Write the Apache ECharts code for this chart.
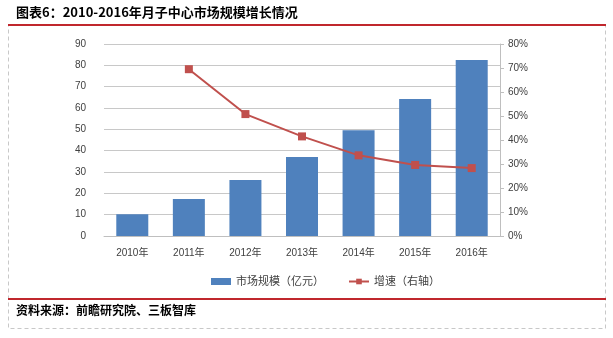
<!DOCTYPE html>
<html>
<head>
<meta charset="utf-8">
<script src="https://cdn.jsdelivr.net/npm/echarts@6/dist/echarts.min.js"></script>
<style>
  html, body { margin: 0; padding: 0; background: #fff; }
  #chart { width: 613px; height: 338px; }
</style>
</head>
<body>
<div id="chart"></div>
<script>
// Market size of confinement centers, 2010-2016
const years = ['2010年', '2011年', '2012年', '2013年', '2014年', '2015年', '2016年'];
const marketSize = [10.2, 17.3, 26.2, 37.0, 49.6, 64.2, 82.5];      // 亿元
const growthRate = [null, 69.5, 50.8, 41.5, 33.6, 29.6, 28.3];      // %
const leftTicks = [0, 90, 10];
const rightTicks = [0, 80, 10];

const titleText = '图表6：2010-2016年月子中心市场规模增长情况';
const sourceText = '资料来源：前瞻研究院、三板智库';
const barName = '市场规模（亿元）';
const lineName = '增速（右轴）';

const cjk = '"Liberation Sans", "Noto Sans CJK SC", sans-serif';
const chart = echarts.init(document.getElementById('chart'));

chart.setOption({
  animation: false,
  backgroundColor: '#fff',
  grid: { left: 104, right: 113, top: 44, bottom: 102 },
  legend: {
    bottom: 46,
    left: 206,
    itemGap: 24,
    itemWidth: 20,
    itemHeight: 7,
    textStyle: { fontFamily: cjk, fontSize: 11, color: '#404040' },
    data: [
      { name: barName, icon: 'rect' },
      { name: lineName }
    ]
  },
  xAxis: {
    type: 'category',
    data: years,
    axisLine: { lineStyle: { color: '#bfbfbf' } },
    axisTick: { show: false },
    axisLabel: { fontFamily: cjk, fontSize: 10, color: '#404040', margin: 12 }
  },
  yAxis: [
    {
      type: 'value',
      min: leftTicks[0], max: leftTicks[1], interval: leftTicks[2],
      axisLine: { show: false },
      axisTick: { show: false },
      axisLabel: { fontFamily: cjk, fontSize: 10, color: '#404040', margin: 18 },
      splitLine: { lineStyle: { color: '#c8c8c8', width: 1 } }
    },
    {
      type: 'value',
      position: 'right',
      min: rightTicks[0], max: rightTicks[1], interval: rightTicks[2],
      axisLine: { show: true, lineStyle: { color: '#bfbfbf' } },
      axisTick: { show: true, length: 4, lineStyle: { color: '#bfbfbf' } },
      axisLabel: { fontFamily: cjk, fontSize: 10, color: '#404040', margin: 8, formatter: '{value}%' },
      splitLine: { show: false }
    }
  ],
  series: [
    {
      name: barName,
      type: 'bar',
      data: marketSize,
      barWidth: 32,
      itemStyle: { color: '#4F81BD' }
    },
    {
      name: lineName,
      type: 'line',
      yAxisIndex: 1,
      data: growthRate,
      symbol: 'rect',
      symbolSize: 8,
      lineStyle: { color: '#C0504D', width: 2 },
      itemStyle: { color: '#C0504D' }
    }
  ],
  graphic: [
    {
      type: 'text', left: 16, top: 6,
      style: { text: titleText, font: 'bold 13px "Noto Sans CJK SC", sans-serif', fill: '#000' }
    },
    {
      type: 'rect', shape: { x: 8.5, y: 25.5, width: 597, height: 303 },
      style: { fill: 'none', stroke: '#c8c8c8', lineWidth: 1, lineDash: [4, 3] }
    },
    {
      type: 'line', shape: { x1: 8, y1: 25, x2: 606, y2: 25 },
      style: { stroke: '#C0272D', lineWidth: 2 }
    },
    {
      type: 'line', shape: { x1: 8, y1: 299, x2: 606, y2: 299 },
      style: { stroke: '#C0272D', lineWidth: 2 }
    },
    {
      type: 'text', left: 16, top: 304,
      style: { text: sourceText, font: 'bold 12px "Noto Sans CJK SC", sans-serif', fill: '#000' }
    }
  ]
});
</script>
</body>
</html>
